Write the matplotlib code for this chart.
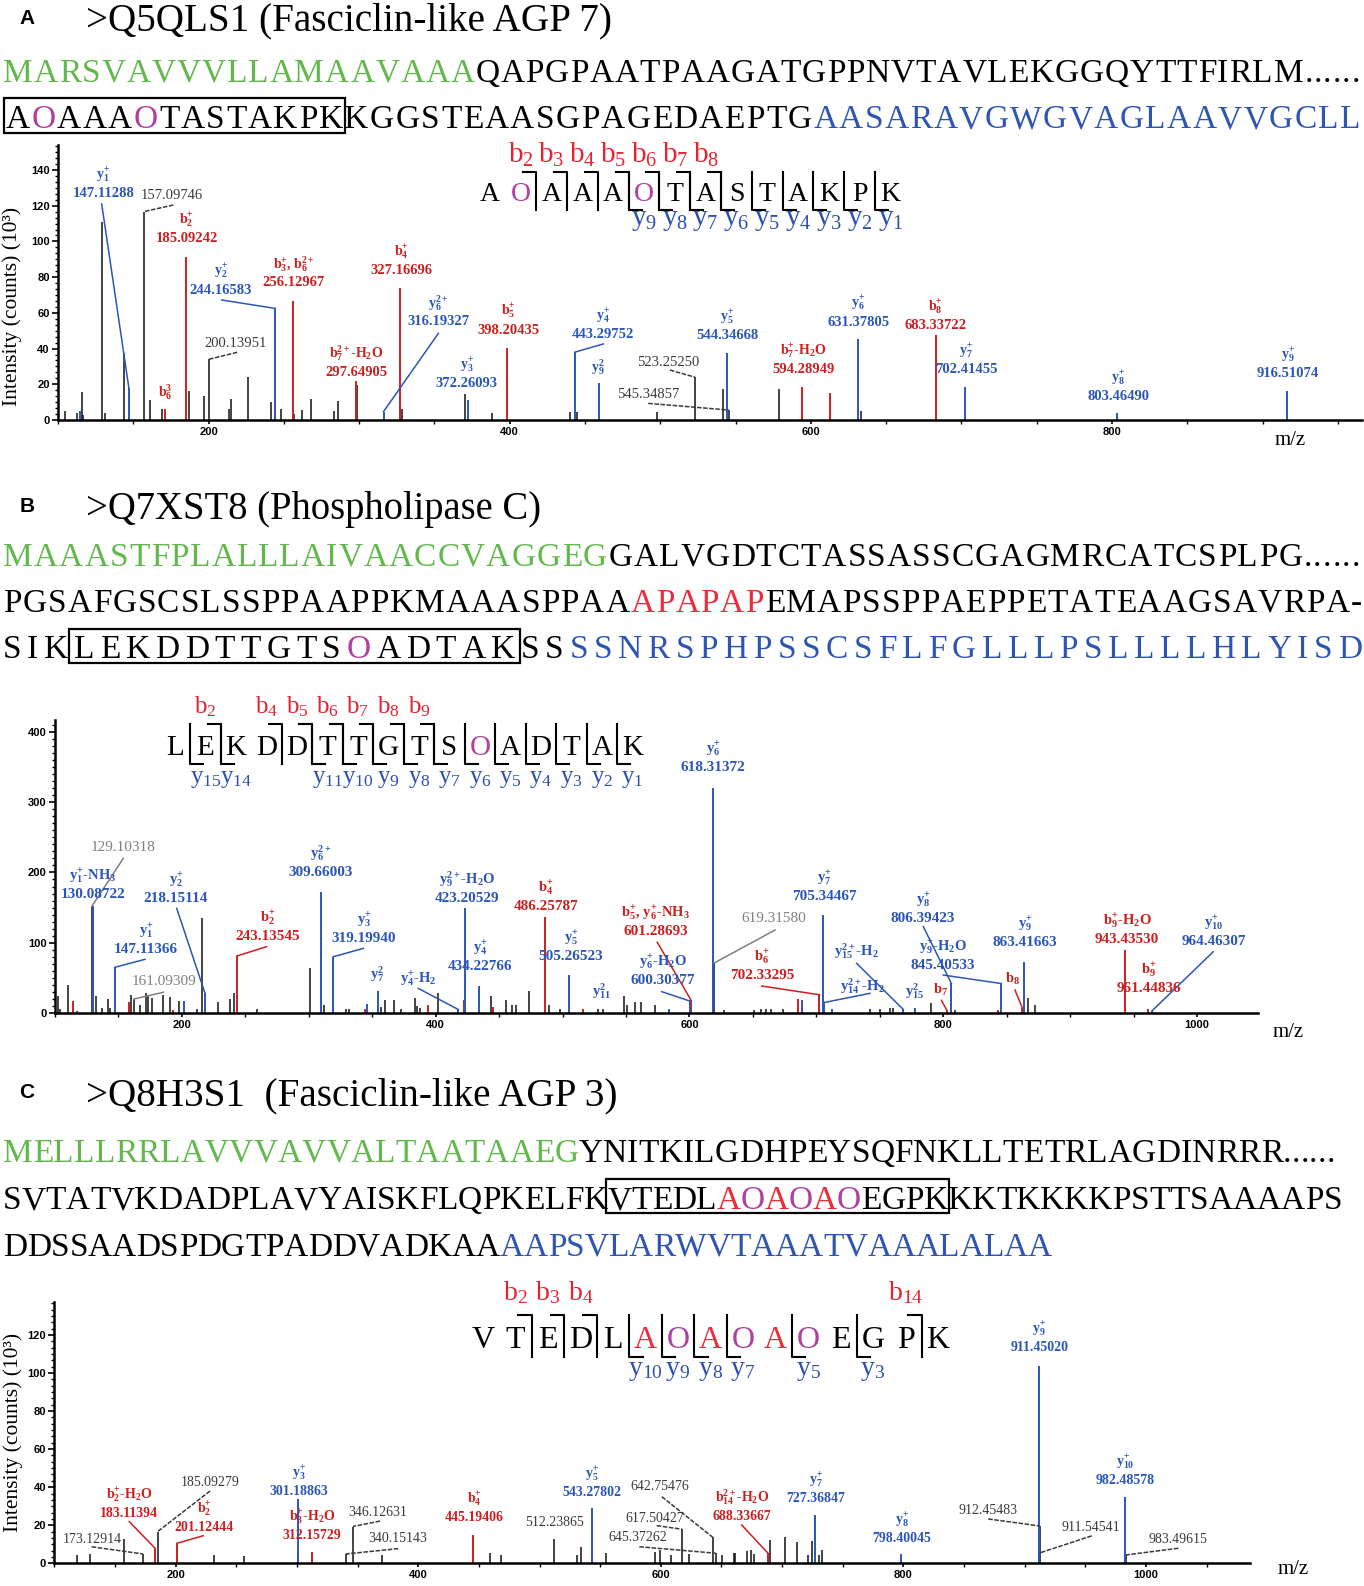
import re
import numpy as np
import matplotlib
matplotlib.use("Agg")
import matplotlib.pyplot as plt
from matplotlib.lines import Line2D
from matplotlib.patches import Rectangle
from matplotlib.ticker import MultipleLocator, AutoMinorLocator

SERIF = ["Liberation Serif", "DejaVu Serif"]
SANS = ["Liberation Sans", "DejaVu Sans"]
plt.rcParams["font.family"] = SERIF
plt.rcParams["mathtext.fontset"] = "custom"
plt.rcParams["mathtext.rm"] = "Liberation Serif"
plt.rcParams["mathtext.it"] = "Liberation Serif:italic"
plt.rcParams["mathtext.bf"] = "Liberation Serif:bold"

GREEN = "#62b84c"
SEQBLUE = "#2f55b4"
MAGENTA = "#b03fa0"
PINK = "#ee2a3c"
K = "black"
PEAK = {"k": "#111111", "r": "#cc1f1f", "b": "#2b56b8"}
LABEL = {"k": "#3a3a3a", "g": "#808080", "r": "#cc1f1f", "b": "#2b56b8"}
BLAB, YLAB = "#e8202f", "#2d50b0"

# ---------------- data: panel A (Q5QLS1) ----------------
a_title = ">Q5QLS1 (Fasciclin-like AGP 7)"
a_seq1 = [("MARSVAVVVLLAMAAVAAA", GREEN), ("QAPGPAATPAAGATGPPNVTAVLEKGGQYTTFIRLM......", K)]
a_seq2 = [("A", K), ("O", MAGENTA), ("AAA", K), ("O", MAGENTA), ("TASTAKPK", K),
          ("KGGSTEAASGPAGEDAEPTG", K), ("AASARAVGWGVAGLAAVVGCLL", SEQBLUE)]
a_pep = "AOAAAOTASTAKPK"
a_b_ions = [2, 3, 4, 5, 6, 7, 8]
a_y_ions = [9, 8, 7, 6, 5, 4, 3, 2, 1]

a_black_mz = [104.4, 112.8, 115.9, 116.6, 129.4, 131.0, 143.5, 157.10, 161.4, 168.9,
              187.2, 196.9, 200.14, 213.7, 215.2, 226.3, 241.7, 248.3, 256.9, 261.8,
              267.8, 283.2, 285.9, 298.9, 328.3, 370.3, 388.5, 440.0, 444.8, 497.7,
              523.25, 541.6, 545.35, 578.9, 633.0]
a_black_int = [5.2, 3.7, 15.5, 2.8, 111.0, 3.7, 37.7, 116.7, 11.2, 6.3,
               16.2, 13.4, 34.0, 6.3, 12.0, 23.9, 10.0, 6.3, 3.4, 5.8,
               12.0, 5.2, 10.6, 19.6, 6.3, 14.6, 4.1, 4.5, 4.5, 4.5,
               23.9, 17.5, 5.6, 17.5, 5.2]
a_red_mz = [170.9, 185.09, 256.13, 297.65, 327.17, 398.20, 594.29, 612.6, 683.34]
a_red_int = [6.3, 91.0, 66.8, 22.0, 74.0, 40.5, 18.5, 15.3, 47.6]
a_blue_mz = [114.3, 147.11, 244.17, 316.19, 372.26, 443.30, 459.0, 544.35, 631.38, 702.41, 803.46, 916.51]
a_blue_int = [5.0, 17.7, 62.5, 4.7, 11.2, 38.0, 20.5, 37.7, 45.4, 18.7, 3.7, 16.4]

# (target m/z, ion, m/z text, colour, label x, label y, leader start)
a_notes = [
    (147.11, "y_1^+", "147.11288", "b", 130.1, 124.9, (129.0, 121.0)),
    (157.10, "", "157.09746", "k", 175.5, 124.0, (176.6, 120.4)),
    (185.09, "b_2^+", "185.09242", "r", 185.5, 99.4, None),
    (244.17, "y_2^+", "244.16583", "b", 208.0, 70.8, (208.7, 67.2)),
    (256.13, "b_3^+, b_6^2+", "256.12967", "r", 256.3, 75.0, None),
    (327.17, "b_4^+", "327.16696", "r", 328.2, 81.5, None),
    (316.19, "y_6^2+", "316.19327", "b", 352.4, 53.0, (352.6, 48.5)),
    (200.14, "", "200.13951", "k", 218.2, 40.9, (219.0, 37.9)),
    (297.65, "b_7^2+-H_2O", "297.64905", "r", 297.9, 24.9, None),
    (170.9, "b_6^3", "", "r", 171.0, 13.4, None),
    (372.26, "y_3^+", "372.26093", "b", 371.4, 18.5, None),
    (398.20, "b_5^+", "398.20435", "r", 399.0, 48.4, None),
    (443.30, "y_4^+", "443.29752", "b", 462.2, 45.9, (462.2, 42.6)),
    (459.0, "y_9^2", "", "b", 458.8, 26.9, None),
    (523.25, "", "523.25250", "k", 505.3, 30.5, (506.4, 28.0)),
    (545.35, "", "545.34857", "k", 492.0, 12.4, (492.0, 9.3)),
    (544.35, "y_5^+", "544.34668", "b", 544.5, 45.5, None),
    (594.29, "b_7^+-H_2O", "594.28949", "r", 595.0, 26.3, None),
    (631.38, "y_6^+", "631.37805", "b", 631.5, 52.9, None),
    (683.34, "b_8^+", "683.33722", "r", 683.0, 51.0, None),
    (702.41, "y_7^+", "702.41455", "b", 703.0, 26.3, None),
    (803.46, "y_8^+", "803.46490", "b", 804.2, 11.3, None),
    (916.51, "y_9^+", "916.51074", "b", 917.0, 24.0, None),
]

# ---------------- data: panel B (Q7XST8) ----------------
b_title = ">Q7XST8 (Phospholipase C)"
b_seq1 = [("MAAASTFPLALLLAIVAACCVAGGEG", GREEN), ("GALVGDTCTASSASSCGAGMRCATCSPLPG......", K)]
b_seq2 = [("PGSAFGSCSLSSPPAAPPKMAAASPPAA", K), ("APAPAP", PINK), ("EMAPSSPPAEPPETATEAAGSAVRPA-", K)]
b_seq3 = [("SIK", K), ("LEKDDTTGTS", K), ("O", MAGENTA), ("ADTAK", K), ("SS", K),
          ("SSNRSPHPSSCSFLFGLLLPSLLLLHLYISD", SEQBLUE)]
b_pep = "LEKDDTTGTSOADTAK"
b_b_ions = [2, 4, 5, 6, 7, 8, 9]
b_y_ions = [15, 14, 11, 10, 9, 8, 7, 6, 5, 4, 3, 2, 1]

b_black_mz = [102.6, 104.0, 110.5, 117.5, 129.10, 132.0, 136.7, 141.5, 143.3, 159.9,
              162.3, 167.0, 171.7, 173.5, 176.2, 185.4, 190.6, 197.7, 211.6, 216.1,
              228.7, 237.9, 241.3, 258.9, 300.9, 312.3, 329.0, 332.0, 356.6, 360.0,
              367.0, 373.0, 383.7, 385.0, 388.0, 402.0, 443.6, 455.4, 460.0, 463.0,
              473.8, 489.0, 498.0, 528.0, 532.0, 548.4, 551.0, 557.0, 562.0, 572.8,
              619.32, 627.0, 651.0, 656.0, 660.0, 664.0, 674.0, 742.0, 750.0, 758.0,
              760.5, 790.0, 809.0, 866.5, 872.3]
b_black_int = [24.6, 5, 40, 3, 152, 24.6, 7, 20, 7, 26,
               20, 12, 28.4, 26, 21, 26, 22.7, 16.6, 5, 135,
               15, 20, 29, 6, 64, 12, 5, 5, 8, 19,
               19, 6, 21, 10, 7, 28, 24, 19, 12, 12,
               32, 12, 5, 5, 5, 24, 12, 15, 15, 12,
               71, 4, 4, 5, 5, 5, 5, 5, 5, 7,
               7, 14, 4, 21, 12]
b_red_mz = [113.9, 158.3, 193.2, 243.14, 344.0, 394.2, 422.5, 445.0, 486.26, 516.0,
            601.29, 685.8, 702.33, 802.7, 843.0, 862.3, 943.44, 961.45]
b_red_int = [16.6, 15, 4, 81, 6, 12, 19, 8, 136, 6,
             18, 20, 26, 4, 4, 7, 90, 6]
b_blue_mz = [130.09, 147.11, 201.9, 218.15, 309.66, 319.20, 345.6, 354.3, 417.8, 423.21,
             434.23, 505.27, 584.0, 600.30, 618.31, 688.4, 705.34, 706.3, 712.0, 768.5,
             777.7, 806.39, 845.41, 863.42, 964.46]
b_blue_int = [152, 65, 16.6, 28.4, 172, 80, 13, 32, 5, 149,
              39, 54, 5, 17, 320, 18, 140, 15, 5, 5,
              7, 42, 42, 73, 3]

b_notes = [
    (129.10, "", "129.10318", "g", 153.6, 230.6, (153.8, 220.0)),
    (130.09, "y_1^+-NH_3", "130.08722", "b", 130.0, 163.7, None),
    (218.15, "y_2^+", "218.15114", "b", 195.4, 158.0, (195.9, 149.0)),
    (147.11, "y_1^+", "147.11366", "b", 171.7, 85.4, (170.9, 76.4)),
    (162.3, "", "161.09309", "g", 185.9, 39.9, (185.4, 29.5)),
    (243.14, "b_2^+", "243.13545", "r", 267.8, 103.9, (266.8, 94.4)),
    (309.66, "y_6^2+", "309.66003", "b", 309.6, 195.0, None),
    (319.20, "y_3^+", "319.19940", "b", 343.5, 101.0, (343.0, 92.0)),
    (354.3, "y_7^2", "", "b", 353.7, 49.8, None),
    (417.8, "y_4^+-H_2", "", "b", 386.0, 42.7, (386.3, 35.0)),
    (423.21, "y_9^2+-H_2O", "423.20529", "b", 424.7, 158.0, None),
    (434.23, "y_4^+", "434.22766", "b", 434.9, 61.2, None),
    (486.26, "b_4^+", "486.25787", "r", 486.9, 146.6, None),
    (505.27, "y_5^+", "505.26523", "b", 506.6, 75.4, None),
    (531.0, "y_11^2", "", "b", 531.0, 24.2, None),
    (601.29, "b_5^+, y_6^+-NH_3", "601.28693", "r", 573.6, 111.0, (574.6, 100.6)),
    (600.30, "y_6^+-H_2O", "600.30377", "b", 579.1, 41.3, (578.1, 30.4)),
    (618.31, "y_6^+", "618.31372", "b", 618.5, 344.4, None),
    (619.32, "", "619.31580", "g", 666.6, 129.5, (667.4, 118.1)),
    (702.33, "b_6^+", "702.33295", "r", 657.1, 48.4, (656.9, 38.4)),
    (705.34, "y_7^+", "705.34467", "b", 706.0, 160.8, None),
    (768.5, "y_15^2+-H_2", "", "b", 731.2, 82.5, (731.7, 70.7)),
    (706.3, "y_14^2+-H_2", "", "b", 736.0, 32.7, (742.2, 28.0)),
    (806.39, "y_8^+", "806.39423", "b", 784.0, 129.5, (784.3, 122.8)),
    (845.41, "y_9^+-H_2O", "845.40533", "b", 799.8, 62.6, (800.0, 54.0)),
    (777.7, "y_15^2", "", "b", 777.7, 24.2, None),
    (802.7, "b_7", "", "r", 798.2, 27.0, (798.6, 18.0)),
    (862.3, "b_8", "", "r", 854.9, 42.7, (856.5, 32.7)),
    (863.42, "y_9^+", "863.41663", "b", 864.4, 95.4, None),
    (943.44, "b_9^+-H_2O", "943.43530", "r", 944.8, 99.6, None),
    (961.45, "b_9^+", "961.44836", "r", 962.1, 29.9, None),
    (964.46, "y_10^+", "964.46307", "b", 1013.3, 96.8, (1012.8, 87.3)),
]

# ---------------- data: panel C (Q8H3S1) ----------------
c_title = ">Q8H3S1  (Fasciclin-like AGP 3)"
c_seq1 = [("MELLLRRLAVVVAVVALTAATAAEG", GREEN), ("YNITKILGDHPEYSQFNKLLTETRLAGDINRRR......", K)]
c_seq2 = [("SVTATVKDADPLAVYAISKFLQPKELFK", K), ("VTEDL", K),
          ("A", PINK), ("O", MAGENTA), ("A", PINK), ("O", MAGENTA), ("A", PINK), ("O", MAGENTA),
          ("EGPK", K), ("KKTKKKKPSTTSAAAAPS", K)]
c_seq3 = [("DDSSAADSPDGTPADDVADKAA", K), ("AAPSVLARWVTAAATVAAALALAA", SEQBLUE)]
c_pep = "VTEDLAOAOAOEGPK"
c_b_ions = [2, 3, 4, 14]
c_y_ions = [10, 9, 8, 7, 5, 3]

c_black_mz = [118.9, 129.3, 157.6, 173.13, 185.09, 231.3, 256.6, 300.6, 340.15, 346.13,
              369.8, 459.3, 468.1, 512.24, 530.8, 534.0, 554.9, 595.3, 599.5, 608.2,
              617.50, 623.6, 642.75, 645.37, 650.3, 660.3, 661.5, 671.4, 674.2, 676.9,
              690.1, 702.0, 712.1, 721.7, 724.5, 730.0, 732.7, 911.55, 912.45, 983.50]
c_black_int = [4.4, 4.9, 12.6, 4.9, 16.6, 4.4, 3.9, 6.0, 4.9, 19.3,
               4.4, 5.6, 4.4, 13.0, 4.6, 8.8, 5.3, 6.1, 7.0, 4.6,
               17.9, 4.9, 13.7, 5.3, 4.4, 5.3, 5.3, 6.5, 7.0, 4.9,
               12.3, 14.0, 11.4, 4.4, 11.9, 4.4, 7.0, 5.3, 19.6, 4.4]
c_red_mz = [183.11, 201.12, 312.16, 445.19, 688.34]
c_red_int = [7.9, 10.5, 6.0, 14.9, 5.3]
c_blue_mz = [301.19, 543.28, 727.37, 798.40, 911.45, 982.49]
c_blue_int = [33.6, 28.9, 25.4, 4.9, 103.7, 34.7]

c_notes = [
    (173.13, "", "173.12914", "k", 131.1, 10.7, (130.8, 8.7)),
    (183.11, "b_2^+-H_2O", "183.11394", "r", 161.7, 24.3, (161.8, 21.9)),
    (185.09, "", "185.09279", "k", 228.4, 40.6, (228.4, 38.0)),
    (201.12, "b_2^+", "201.12444", "r", 223.4, 17.0, (222.8, 14.5)),
    (301.19, "y_3^+", "301.18863", "b", 301.7, 35.9, None),
    (312.16, "b_3^+-H_2O", "312.15729", "r", 312.4, 12.8, None),
    (346.13, "", "346.12631", "k", 366.8, 24.9, (368.5, 22.2)),
    (340.15, "", "340.15143", "k", 383.3, 11.2, (383.6, 7.7)),
    (445.19, "b_4^+", "445.19406", "r", 446.0, 22.2, None),
    (512.24, "", "512.23865", "k", 512.0, 19.6, None),
    (543.28, "y_5^+", "543.27802", "b", 543.3, 35.4, None),
    (642.75, "", "642.75476", "k", 599.4, 38.5, (600.8, 35.0)),
    (617.50, "", "617.50427", "k", 595.3, 21.7, (596.6, 19.8)),
    (645.37, "", "645.37262", "k", 581.3, 11.7, (582.3, 8.7)),
    (688.34, "b_14^2+-H_2O", "688.33667", "r", 667.0, 22.8, (666.7, 20.1)),
    (727.37, "y_7^+", "727.36847", "b", 728.0, 32.2, None),
    (798.40, "y_8^+", "798.40045", "b", 798.6, 11.2, None),
    (911.45, "y_9^+", "911.45020", "b", 911.9, 111.6, None),
    (912.45, "", "912.45483", "k", 869.7, 25.9, (869.9, 23.3)),
    (911.55, "", "911.54541", "k", 954.7, 17.0, (955.2, 14.4)),
    (982.49, "y_10^+", "982.48578", "b", 982.7, 41.7, None),
    (983.50, "", "983.49615", "k", 1026.3, 10.7, (1026.6, 7.9)),
]

# ---------------- figure ----------------
W, H = 1364, 1586
fig = plt.figure(figsize=(W / 100, H / 100), dpi=100)
renderer = fig.canvas.get_renderer()


def fx(x):
    return x / W


def fy(y):
    return 1 - y / H


def fline(xs, ys, **kw):
    fig.add_artist(Line2D([fx(x) for x in xs], [fy(y) for y in ys],
                          transform=fig.transFigure, **kw))


def ion(s):
    def rep(m):
        out = r"_{\mathbf{%s}}" % m.group(1)
        if m.group(2):
            out += r"^{\mathbf{%s}}" % m.group(2)
        return "$" + out + "$"
    return re.sub(r"_(\d+)(?:\^(\d*\+?))?", rep, s)


def header(letter, title, x0, x1, base):
    fig.text(fx(27), fy(base - 12), letter, family=SANS, weight="bold", fontsize=15,
             ha="center", va="center")
    t = fig.text(fx(x0), fy(base), title, fontsize=27, va="baseline", ha="left")
    w = t.get_window_extent(renderer).width
    t.set_fontsize(27 * (x1 - x0) / w)


def seq_line(segments, x0, x1, base, size=24, boxed=None):
    chars = [(c, col) for text, col in segments for c in text]
    texts, widths = [], []
    for c, col in chars:
        t = fig.text(0, fy(base), c, color=col, fontsize=size, va="baseline", ha="left")
        texts.append(t)
        widths.append(t.get_window_extent(renderer).width)
    gap = (x1 - x0 - sum(widths)) / (len(chars) - 1)
    lefts, x = [], x0
    for t, w in zip(texts, widths):
        t.set_x(fx(x))
        lefts.append(x)
        x += w + gap
    if boxed:
        line = "".join(c for c, _ in chars)
        i = line.find(boxed)
        j = i + len(boxed) - 1
        cap = 0.66 * size * 100 / 72
        pad = gap / 2 + 1.5
        xa, xb = lefts[i] - pad, lefts[j] + widths[j] + pad
        ya, yb = base - cap - 8, base + 4
        fig.add_artist(Rectangle((fx(xa), fy(yb)), (xb - xa) / W, (yb - ya) / H,
                                 transform=fig.transFigure, fill=False, lw=1.6, ec="black"))


def peptide(seq, reds, x0, dx, yc, size, bions, yions, lsize, bo, yo):
    n = len(seq)
    cap = 0.66 * size * 100 / 72
    for i, ch in enumerate(seq):
        col = MAGENTA if ch == "O" else (PINK if i in reds else "black")
        fig.text(fx(x0 + i * dx), fy(yc + cap / 2), ch, fontsize=size, color=col,
                 ha="center", va="baseline")
    top, bot = yc - cap / 2 - 11, yc + cap / 2 + 9
    for k in bions:
        xb = x0 + (k - 0.5) * dx
        fline([xb - 0.42 * dx, xb, xb], [top, top, bot], color="black", lw=1.5)
        fig.text(fx(x0 + (k - 1) * dx), fy(yc - bo), r"b$_{%d}$" % k, fontsize=lsize,
                 color=BLAB, ha="center", va="baseline")
    for k in yions:
        xb = x0 + (n - k - 0.5) * dx
        fline([xb, xb, xb + 0.42 * dx], [top, bot, bot], color="black", lw=1.5)
        fig.text(fx(x0 + (n - k) * dx), fy(yc + yo), r"y$_{%d}$" % k, fontsize=lsize,
                 color=YLAB, ha="center", va="baseline")


def spectrum(frame, xlim, ylim, ystep, yminor, peaks, notes, vsize, isize, mz_pos):
    left, top, right, bottom = frame
    ax = fig.add_axes([left / W, 1 - bottom / H, (right - left) / W, (bottom - top) / H])
    ax.set_xlim(*xlim)
    ax.set_ylim(*ylim)
    all_mz, all_h = [], []
    for code, (mz, h) in peaks.items():
        ax.vlines(mz, 0, h, colors=PEAK[code], lw=1.1 if code == "k" else 1.4)
        all_mz += list(mz)
        all_h += list(h)
    all_mz = np.array(all_mz)
    for target, name, value, col, lx, ly, lead in notes:
        c = LABEL[col]
        wt = "bold" if col in "rb" else "normal"
        if value:
            ax.text(lx, ly, value, ha="center", va="baseline", color=c, fontsize=vsize, weight=wt)
            if name:
                ax.annotate(ion(name), (lx, ly), xytext=(0, 13), textcoords="offset points",
                            ha="center", va="baseline", color=c, fontsize=isize, weight="bold")
        else:
            ax.text(lx, ly, ion(name), ha="center", va="baseline", color=c, fontsize=isize,
                    weight="bold")
        if lead is not None:
            i = int(np.argmin(np.abs(all_mz - target)))
            ls = (0, (3, 1)) if col == "k" else "-"
            ax.plot([lead[0], all_mz[i]], [lead[1], all_h[i]], color=c, lw=1.1, ls=ls)
    for side in ("top", "right"):
        ax.spines[side].set_visible(False)
    for side in ("left", "bottom"):
        ax.spines[side].set_linewidth(1.8)
    ax.xaxis.set_major_locator(MultipleLocator(200))
    ax.xaxis.set_minor_locator(MultipleLocator(50))
    ax.yaxis.set_major_locator(MultipleLocator(ystep))
    ax.yaxis.set_minor_locator(AutoMinorLocator(yminor))
    ax.tick_params(which="major", direction="out", length=4, width=1.2, labelsize=8, pad=2)
    ax.tick_params(which="minor", direction="out", length=2.5, width=1.0)
    ax.tick_params(axis="x", which="both", length=3)
    for lab in ax.get_xticklabels() + ax.get_yticklabels():
        lab.set_fontfamily(SANS)
        lab.set_fontweight("bold")
    ax.patch.set_alpha(0)
    fig.text(fx(mz_pos[0]), fy(mz_pos[1]), "m/z", fontsize=15, ha="center", va="baseline")
    return ax


# panel A
header("A", a_title, 86, 612, 30)
seq_line(a_seq1, 3, 1360, 82)
seq_line(a_seq2, 6, 1360, 128.5, boxed=a_pep)
spectrum((58, 145, 1362, 420), (100, 966), (0, 154), 20, 6,
         {"k": (a_black_mz, a_black_int), "r": (a_red_mz, a_red_int), "b": (a_blue_mz, a_blue_int)},
         a_notes, 10.5, 10, (1290, 445))
peptide(a_pep, [], 490, 30.8, 192, 20, a_b_ions, a_y_ions, 21, 29, 33)
fig.text(fx(12), fy(306), "Intensity (counts) (10³)", rotation=90, fontsize=15.5,
         ha="center", va="center")

# panel B
header("B", b_title, 86, 541, 519)
seq_line(b_seq1, 3, 1360, 565.5)
seq_line(b_seq2, 3, 1362, 612)
seq_line(b_seq3, 3, 1362, 658.5, boxed=b_pep)
spectrum((55, 720, 1258, 1013), (100, 1048), (0, 417), 100, 10,
         {"k": (b_black_mz, b_black_int), "r": (b_red_mz, b_red_int), "b": (b_blue_mz, b_blue_int)},
         b_notes, 11, 10.5, (1288, 1037))
peptide(b_pep, [], 175, 30.5, 745, 21, b_b_ions, b_y_ions, 18, 32, 38)

# panel C
header("C", c_title, 86, 617, 1105)
seq_line(c_seq1, 3, 1335, 1162)
seq_line(c_seq2, 3, 1342, 1209, boxed=c_pep)
seq_line(c_seq3, 3, 1052, 1255.5)
spectrum((54.3, 1302, 1250, 1563.3), (100, 1085.7), (0, 137.3), 20, 6,
         {"k": (c_black_mz, c_black_int), "r": (c_red_mz, c_red_int), "b": (c_blue_mz, c_blue_int)},
         c_notes, 10, 10, (1293, 1574))
peptide(c_pep, [5, 7, 9], 483, 32.5, 1337, 23, c_b_ions, c_y_ions, 20, 37, 38)
fig.text(fx(13), fy(1432), "Intensity (counts) (10³)", rotation=90, fontsize=15.5,
         ha="center", va="center")

fig.savefig("out.png", dpi=100)
